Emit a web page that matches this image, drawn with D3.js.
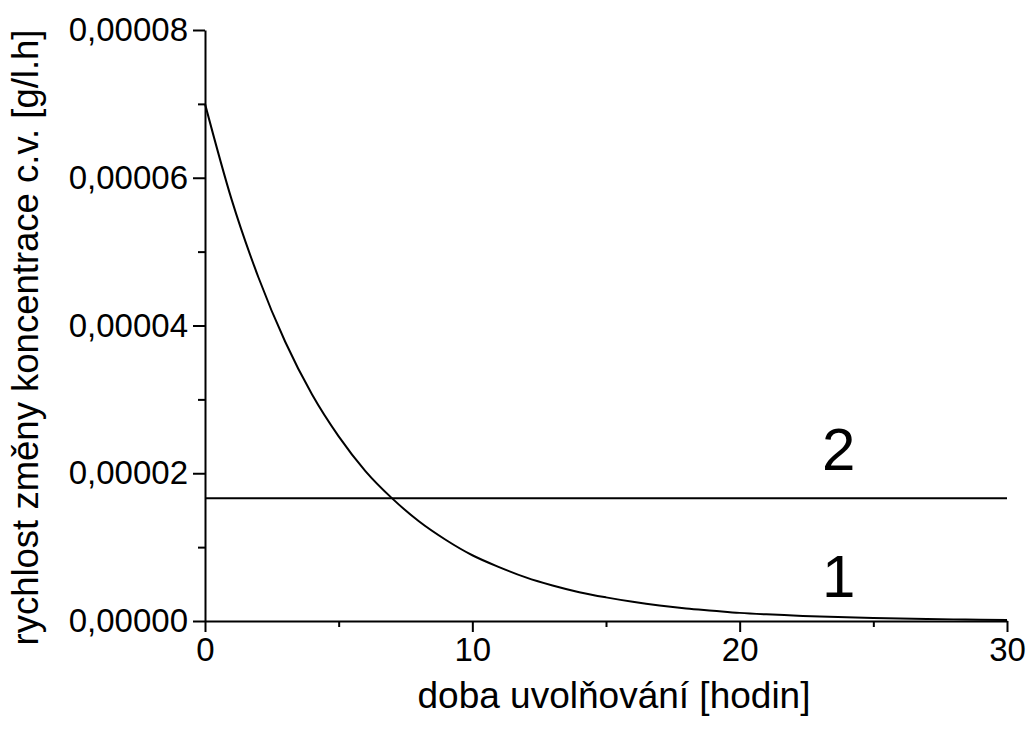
<!DOCTYPE html>
<html lang="cs">
<head>
<meta charset="utf-8">
<title>Rychlost změny koncentrace</title>
<script src="https://d3js.org/d3.v7.min.js"></script>
<style>
body { margin: 0; background: #fff; font-family: "Liberation Sans", Arial, sans-serif; }
.axis path, .axis line { stroke: #000; stroke-width: 2; fill: none; }
.axis text { font-family: "Liberation Sans", Arial, sans-serif; font-size: 33px; fill: #000; }
.curve { stroke: #000; stroke-width: 2; fill: none; }
</style>
</head>
<body>
<script>

// release time [h]
var hours = [0,1,2,3,4,5,6,7,8,9,10,11,12,13,14,15,16,17,18,19,20,21,22,23,24,25,26,27,28,29,30];
// curve 1: rate [g/l.h]
var rate1 = [7.0e-5,5.7e-5,4.65e-5,3.78e-5,3.07e-5,2.5e-5,2.03e-5,1.66e-5,1.35e-5,1.1e-5,
             8.9e-6,7.3e-6,5.9e-6,4.8e-6,3.9e-6,3.2e-6,2.6e-6,2.1e-6,1.7e-6,1.4e-6,
             1.1e-6,9e-7,7.5e-7,6e-7,5e-7,4e-7,3.3e-7,2.7e-7,2.2e-7,1.8e-7,1.5e-7];
// curve 2: constant rate
var hours2 = [0, 30];
var rate2 = [1.66e-5, 1.66e-5];

var xTicks = [0, 10, 20, 30];
var xMinor = [5, 15, 25];
var yTicks = [0, 2e-5, 4e-5, 6e-5, 8e-5];
var yMinor = [1e-5, 3e-5, 5e-5, 7e-5];

var curveLabels = [{text: "2", x: 23.7, y: 2.04e-5}, {text: "1", x: 23.7, y: 3.2e-6}];

var margin = {left: 205, top: 30},
    width = 802,
    height = 591;

var svg = d3.select("body").append("svg")
    .attr("width", 1033)
    .attr("height", 738)
  .append("g")
    .attr("transform", "translate(" + margin.left + "," + margin.top + ")");

var x = d3.scaleLinear().domain([0, 30]).range([0, width]);
var y = d3.scaleLinear().domain([0, 8e-5]).range([height, 0]);

var fmt = function(d) { return d.toFixed(5).replace(".", ","); };

// minor ticks first
svg.append("g").attr("class", "axis")
    .attr("transform", "translate(0," + height + ")")
    .call(d3.axisBottom(x).tickValues(xMinor).tickSize(6).tickFormat(""))
    .select(".domain").remove();
svg.append("g").attr("class", "axis")
    .call(d3.axisLeft(y).tickValues(yMinor).tickSize(7).tickFormat(""))
    .select(".domain").remove();

// major axes
svg.append("g").attr("class", "axis")
    .attr("transform", "translate(0," + height + ")")
    .call(d3.axisBottom(x).tickValues(xTicks).tickSize(11).tickSizeOuter(0).tickPadding(6));
svg.append("g").attr("class", "axis")
    .call(d3.axisLeft(y).tickValues(yTicks).tickSize(12).tickSizeOuter(0).tickPadding(5).tickFormat(fmt));

// axis titles
svg.append("text")
    .attr("x", width / 2 + 8)
    .attr("y", height + 87)
    .attr("text-anchor", "middle")
    .style("font-size", "37px")
    .text("doba uvolňování [hodin]");

svg.append("text")
    .attr("transform", "translate(" + (-167) + "," + (height / 2 + 12) + ") rotate(-90)")
    .attr("text-anchor", "middle")
    .style("font-size", "36.5px")
    .text("rychlost změny koncentrace c.v. [g/l.h]");

// lines
var line = d3.line()
    .x(function(d) { return x(d[0]); })
    .y(function(d) { return y(d[1]); })
    .curve(d3.curveMonotoneX);

svg.append("path")
    .attr("class", "curve")
    .attr("d", line(d3.zip(hours, rate1)));

svg.append("path")
    .attr("class", "curve")
    .attr("d", line(d3.zip(hours2, rate2)));

// curve numbers
svg.selectAll(".lbl")
    .data(curveLabels)
  .enter().append("text")
    .attr("class", "lbl")
    .attr("x", function(d) { return x(d.x); })
    .attr("y", function(d) { return y(d.y); })
    .attr("text-anchor", "middle")
    .style("font-size", "60px")
    .text(function(d) { return d.text; });

</script>
</body>
</html>
